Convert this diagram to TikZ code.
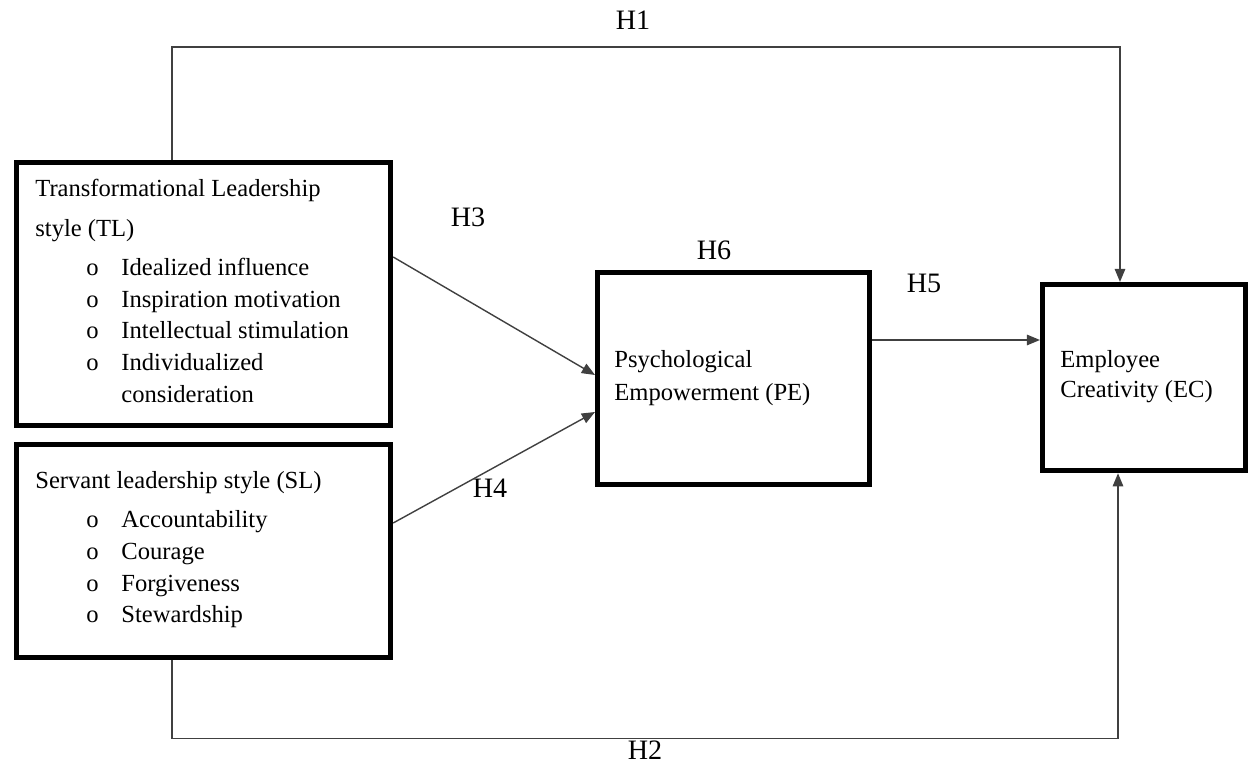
\documentclass[tikz,border=0pt]{standalone}
\usepackage{fontspec}
\setmainfont{Liberation Serif}
\usetikzlibrary{arrows.meta,calc}

\newcommand{\bul}[1]{\hspace*{29pt}\makebox[20pt][l]{o}#1}

\begin{document}
\begin{tikzpicture}[x=0.02cm, y=-0.02cm,
  box/.style={draw, line width=3pt, inner sep=0pt, anchor=north west},
  txt/.style={anchor=north west, inner sep=0pt, align=left, font=\fontsize{14}{18}\selectfont},
  hyp/.style={font=\fontsize{16}{18}\selectfont},
  link/.style={draw=black!75, line width=0.8pt, -{Triangle[length=7.5pt,width=6pt]}}]
\useasboundingbox (0,0) rectangle (1249,763);

% the four boxes
\node[box, minimum width=7.48cm, minimum height=5.26cm] (TL) at (14,160) {};
\node[box, minimum width=7.48cm, minimum height=4.26cm] (SL) at (14,442) {};
\node[box, minimum width=5.44cm, minimum height=4.24cm] (PE) at (595,270) {};
\node[box, minimum width=4.06cm, minimum height=3.72cm] (EC) at (1040,282) {};

% texts inside
\node[txt] (TLtext) at (35,179) {Transformational Leadership\\[4.5pt]
  style (TL)\\[4.5pt]
  \bul{Idealized influence}\\
  \bul{Inspiration motivation}\\
  \bul{Intellectual stimulation}\\
  \bul{Individualized}\\
  \hspace*{49pt}consideration};
\node[txt] (SLtext) at (35,471) {Servant leadership style (SL)\\[4.5pt]
  \bul{Accountability}\\
  \bul{Courage}\\
  \bul{Forgiveness}\\
  \bul{Stewardship}};
\node[txt, font=\fontsize{14}{19}\selectfont] (PEtext) at (614,350) {Psychological\\ Empowerment (PE)};
\node[txt, font=\fontsize{14}{17}\selectfont] (ECtext) at (1060,350) {Employee\\ Creativity (EC)};

% hypotheses
\node[hyp] (h1) at (633,20) {H1};
\node[hyp] (h2) at (645,750) {H2};
\node[hyp] (h3) at (468,217) {H3};
\node[hyp] (h4) at (490,488) {H4};
\node[hyp] (h5) at (924,283) {H5};
\node[hyp] (h6) at (714,250) {H6};

% paths
\draw[link] ($(TL.north west)+(158,0)$) -- ++(0,-113) -| ($(EC.north west)+(80,0)$);
\draw[link] ($(SL.south west)+(158,0)$) -- ++(0,78) -| ($(EC.south west)+(78,0)$);
\draw[link] ($(TL.north east)+(0,97)$) -- ($(PE.north west)+(0,105)$);
\draw[link] ($(SL.north east)+(0,81)$) -- ($(PE.north west)+(0,142)$);
\coordinate (h5s) at ($(PE.north east)+(0,70)$);
\draw[link] (h5s) -- (h5s -| EC.west);

\end{tikzpicture}
\end{document}
